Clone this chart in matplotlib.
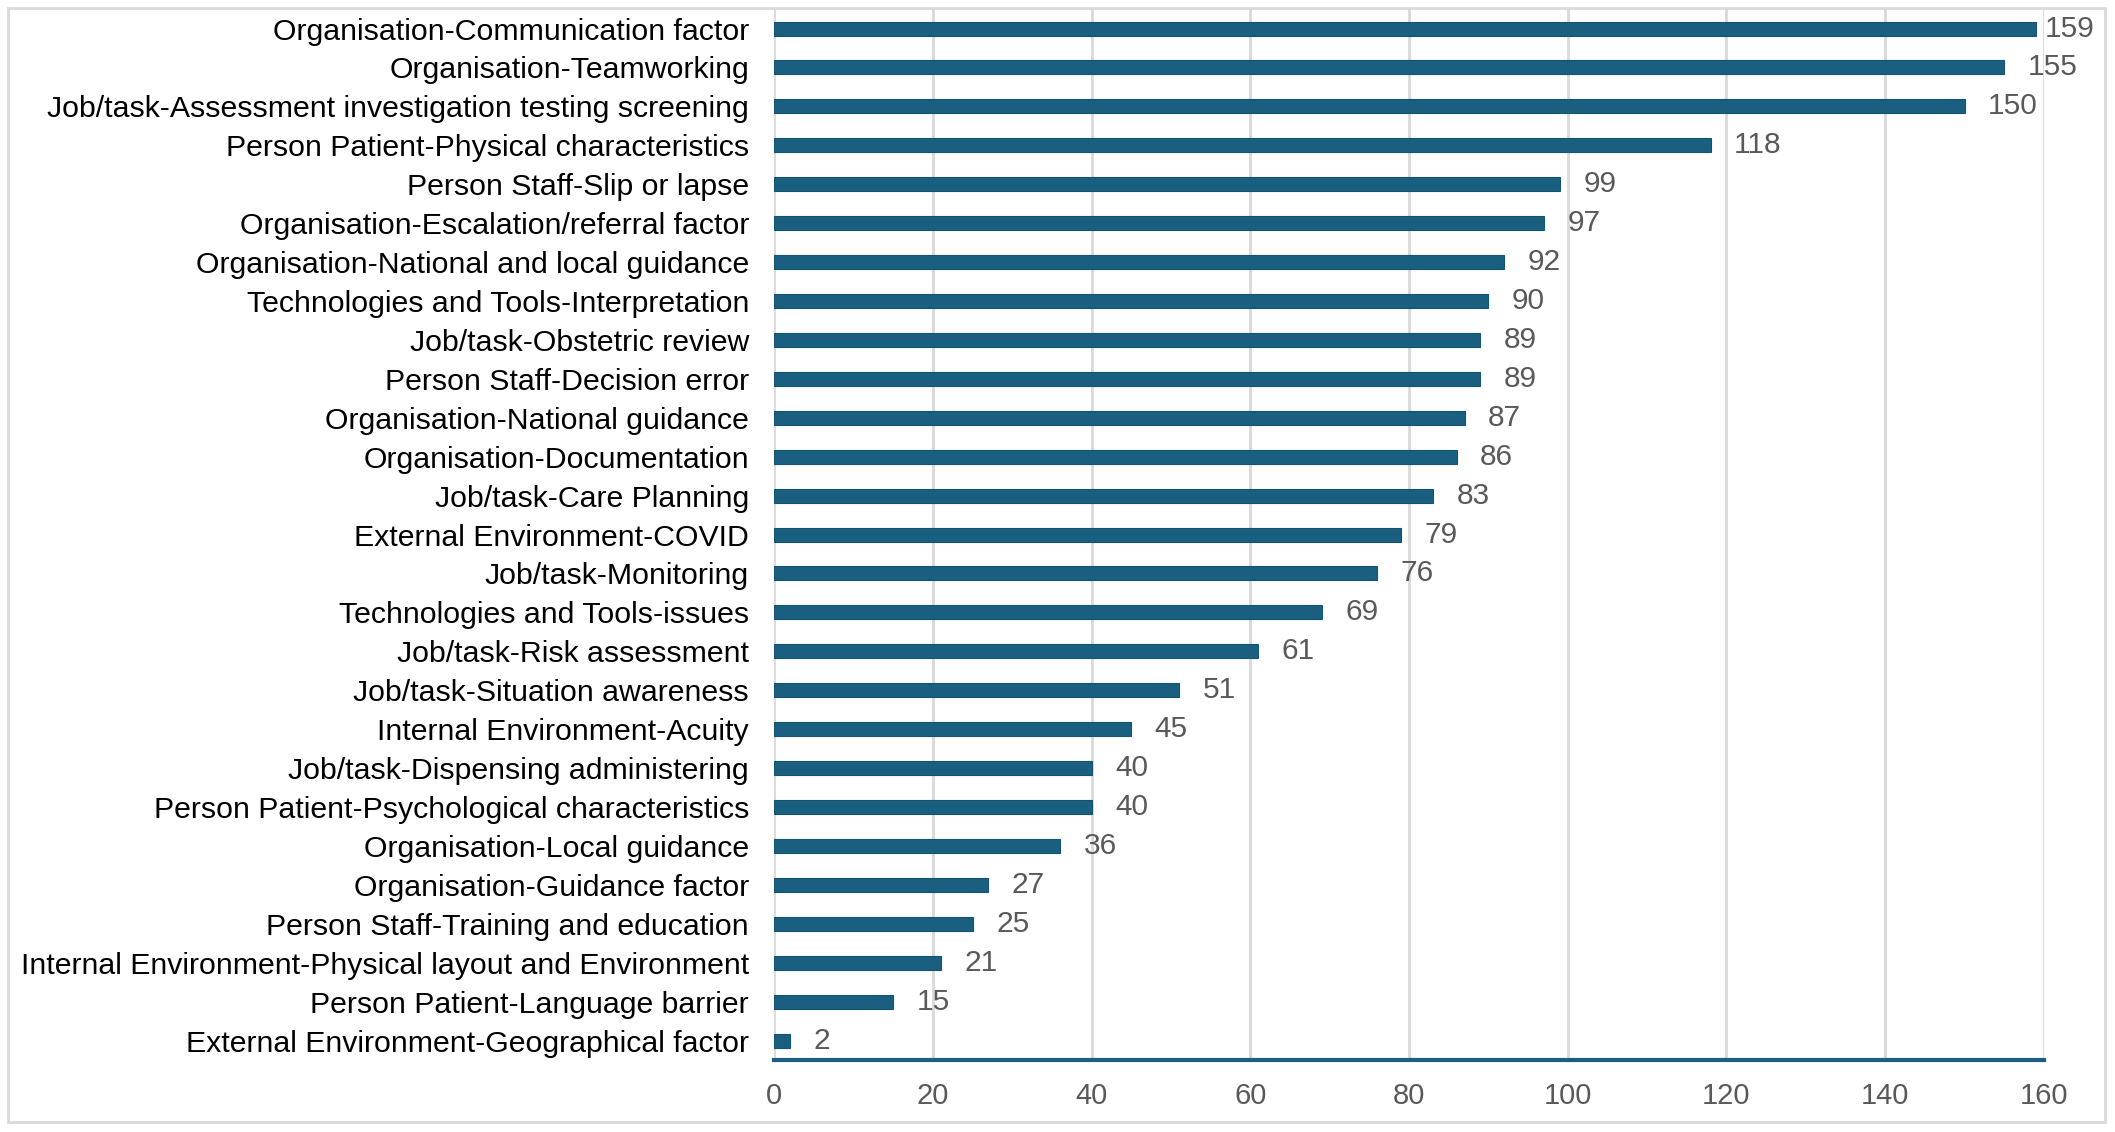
import matplotlib.pyplot as plt

# categories listed top to bottom as in the chart
categories = [
    "Organisation-Communication factor",
    "Organisation-Teamworking",
    "Job/task-Assessment investigation testing screening",
    "Person Patient-Physical characteristics",
    "Person Staff-Slip or lapse",
    "Organisation-Escalation/referral factor",
    "Organisation-National and local guidance",
    "Technologies and Tools-Interpretation",
    "Job/task-Obstetric review",
    "Person Staff-Decision error",
    "Organisation-National guidance",
    "Organisation-Documentation",
    "Job/task-Care Planning",
    "External Environment-COVID",
    "Job/task-Monitoring",
    "Technologies and Tools-issues",
    "Job/task-Risk assessment",
    "Job/task-Situation awareness",
    "Internal Environment-Acuity",
    "Job/task-Dispensing administering",
    "Person Patient-Psychological characteristics",
    "Organisation-Local guidance",
    "Organisation-Guidance factor",
    "Person Staff-Training and education",
    "Internal Environment-Physical layout and Environment",
    "Person Patient-Language barrier",
    "External Environment-Geographical factor",
]
counts = [159, 155, 150, 118, 99, 97, 92, 90, 89, 89, 87, 86, 83, 79, 76,
          69, 61, 51, 45, 40, 40, 36, 27, 25, 21, 15, 2]
x_ticks = [0, 20, 40, 60, 80, 100, 120, 140, 160]

bar_color = '#1a5e80'
grid_color = '#d9d9d9'
text_gray = '#595959'

plt.rcParams['font.family'] = ['Liberation Sans', 'DejaVu Sans']

W, H = 2115, 1132
fig = plt.figure(figsize=(W / 100, H / 100), dpi=100)
ax = fig.add_axes([0.366, 0.0636, 0.6004, 0.9284])

ypos = list(range(len(categories)))
ax.barh(ypos, counts, height=0.36, color=bar_color, edgecolor='#155470',
        linewidth=0.8, zorder=3)

ax.set_ylim(len(categories) - 0.5, -0.5)
ax.set_xlim(0, 160)
ax.set_xticks(x_ticks)
ax.set_yticks(ypos)
ax.set_yticklabels(categories, fontsize=21.8, color='black')
ax.tick_params(axis='x', labelsize=21, labelcolor=text_gray, length=0, pad=16)
ax.tick_params(axis='y', length=0, pad=18)

# value labels: left aligned after the bar end, pushed back inside the frame
labels = []
for y, v in zip(ypos, counts):
    t = ax.annotate(str(v), (v, y), xytext=(17, 0), textcoords='offset points',
                    ha='left', va='center', fontsize=21.5, color=text_gray)
    labels.append(t)

fig.canvas.draw()
r = fig.canvas.get_renderer()
limit = 2095
for t in labels:
    bb = t.get_window_extent(r)
    if bb.x1 > limit:
        dx = (bb.x1 - limit) * 72 / 100
        t.set_position((17 - dx, 0))

ax.grid(axis='x', color=grid_color, linewidth=2, zorder=0)
for s in ['top', 'right', 'left']:
    ax.spines[s].set_visible(False)
ax.spines['bottom'].set_color(bar_color)
ax.spines['bottom'].set_linewidth(3)
ax.spines['bottom'].set_zorder(4)

# light outer frame around the whole chart
frame = plt.Rectangle((8 / W, 1 - 1122 / H), (2105 - 8) / W,
                      (1122 - 8) / H, transform=fig.transFigure,
                      fill=False, edgecolor=grid_color, linewidth=2)
fig.patches.append(frame)

fig.savefig('out.png', dpi=100)
